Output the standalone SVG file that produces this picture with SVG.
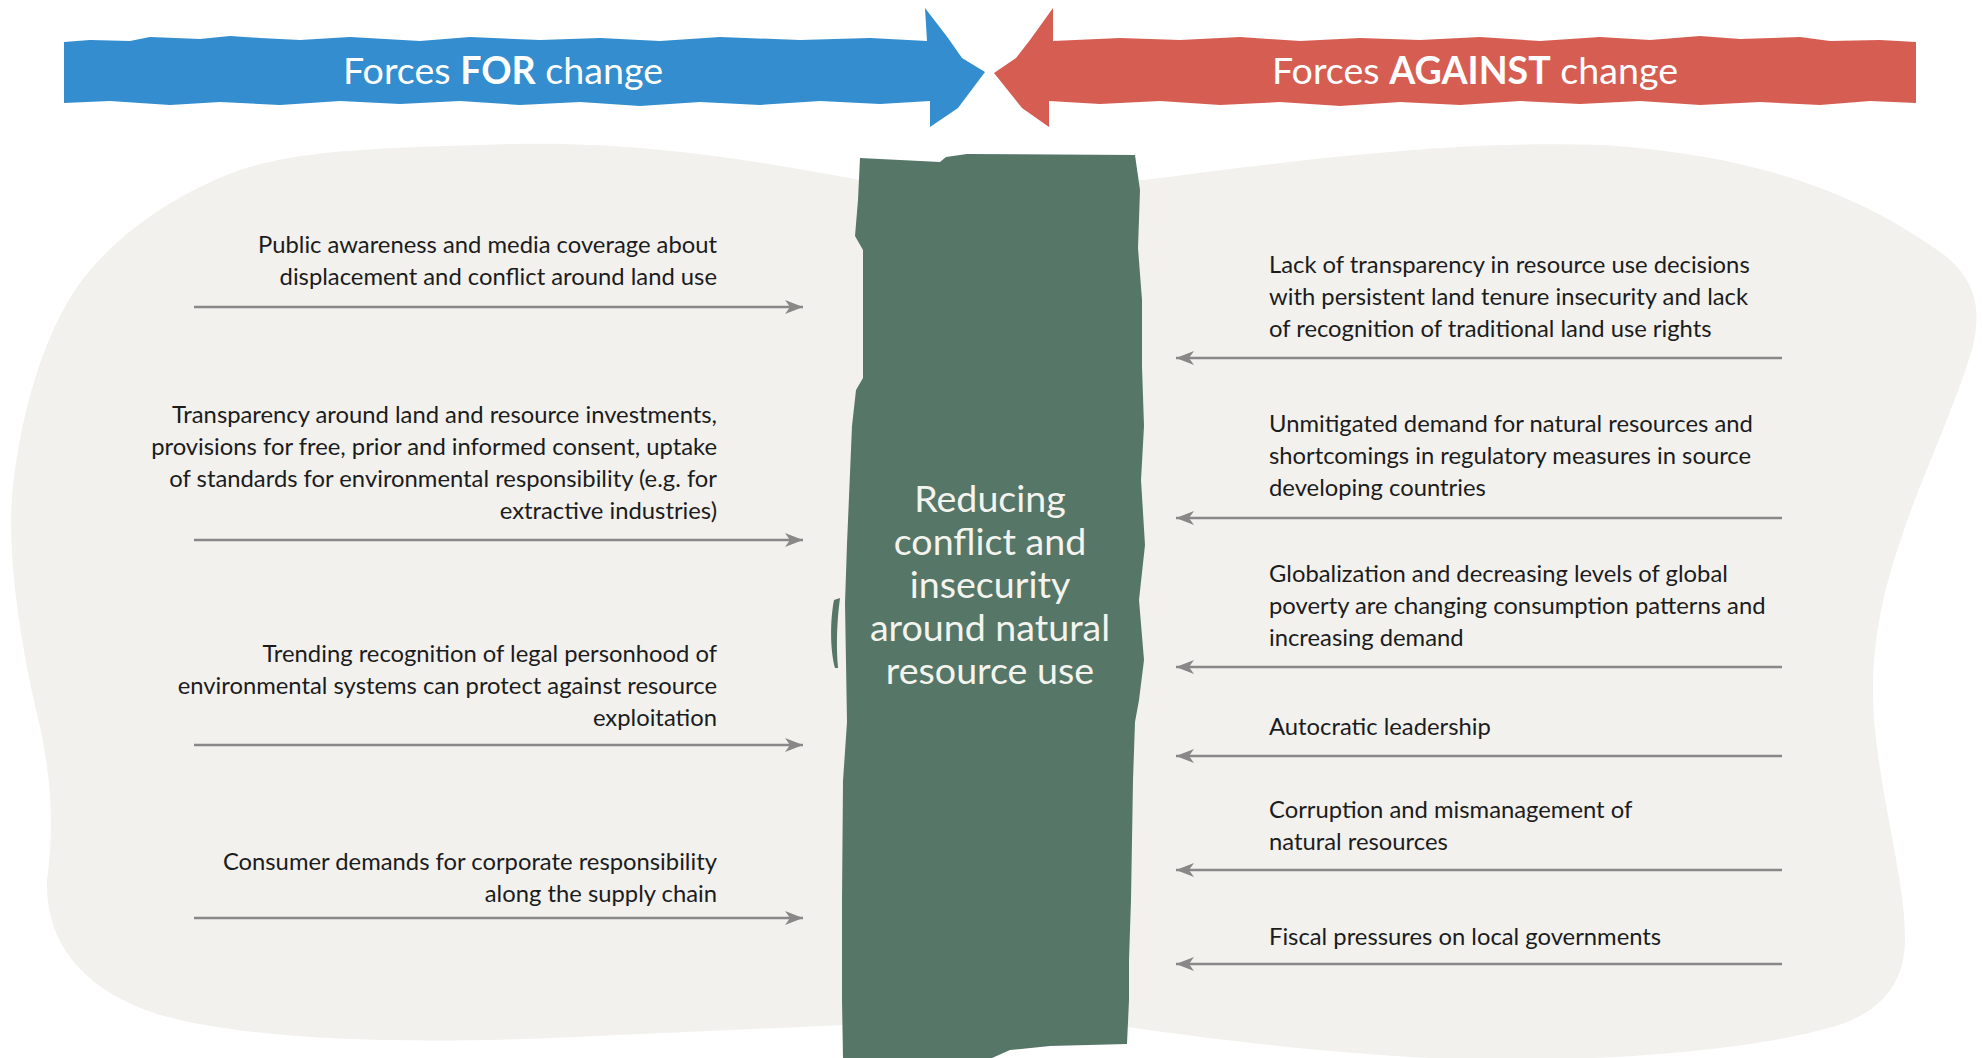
<svg xmlns="http://www.w3.org/2000/svg" width="1982" height="1058" viewBox="0 0 1982 1058">
<style>
.t{font-family:Lato,"Noto Sans","Liberation Sans",sans-serif;font-size:23.8px;fill:#1c1c1c}
.l{text-anchor:end}
.h{font-family:Lato,"Noto Sans","Liberation Sans",sans-serif;font-size:37.6px;fill:#ffffff;text-anchor:middle}
.c{font-family:Lato,"Noto Sans","Liberation Sans",sans-serif;font-size:37.6px;fill:#f4f4ef;text-anchor:middle}
.a{stroke:#888888;stroke-width:2.6;fill:none}
</style>
<defs>
<marker id="ah" markerUnits="userSpaceOnUse" markerWidth="20" markerHeight="16" viewBox="0 0 20 16" refX="18" refY="8" orient="auto">
<path d="M0,1 L18,8 L0,15 L5,8 Z" fill="#888888"/>
</marker>
</defs>
<rect width="1982" height="1058" fill="#ffffff"/>
<g id="background">
<path d="M860,180 C700,150 600,140 480,145 C380,148 300,150 240,170 C170,195 110,240 77,287 C45,335 25,400 15,470 C5,530 15,620 38,718 C50,770 55,820 47,880 C45,940 80,990 160,1015 C250,1040 400,1045 574,1037 L845,1025 L1128,1027 C1250,1045 1400,1060 1500,1060 C1650,1060 1780,1045 1845,1023 C1890,1005 1905,975 1905,939 C1905,880 1885,820 1875,730 C1868,660 1880,600 1901,539 C1920,480 1950,420 1972,350 C1985,300 1970,270 1930,245 C1850,190 1750,155 1604,145 C1450,140 1300,160 1144,180 Z" fill="#f2f1ee"/>
</g>
<g id="forces-for">
<path d="M64,42 L90,40 L130,41 L150,37 L200,39 L230,36 L260,38 L300,40 L350,37 L420,41 L470,37 L540,40 L600,38 L660,41 L720,37 L800,40 L870,38 L927,41 L925,8 L948,38 L962,58 L985,72 L958,108 L930,127 L930,101 L880,104 L820,101 L760,105 L700,102 L640,106 L580,102 L520,105 L460,101 L400,104 L340,101 L280,105 L220,102 L170,105 L110,101 L64,103 Z" fill="#338dce"/>
<text class="h" x="503" y="84">Forces <tspan font-weight="bold">FOR</tspan> change</text>
</g>
<g id="forces-against">
<path d="M1916,42 L1880,40 L1830,41 L1800,37 L1740,39 L1700,36 L1650,40 L1600,37 L1540,41 L1480,37 L1420,40 L1360,38 L1300,41 L1240,37 L1180,40 L1120,38 L1053,41 L1053,8 L1030,40 L1016,58 L994,73 L1022,108 L1049,127 L1049,101 L1100,104 L1160,101 L1220,105 L1280,102 L1340,106 L1400,102 L1460,105 L1520,101 L1580,104 L1640,101 L1700,105 L1760,102 L1820,105 L1870,101 L1916,103 Z" fill="#d65d52"/>
<text class="h" x="1475" y="84">Forces <tspan font-weight="bold">AGAINST</tspan> change</text>
</g>
<g id="goal">
<path d="M860,158 L940,162 L946,157 L967,154 L1135,155 L1140,190 L1138,248 L1142,300 L1142,367 L1144,426 L1141,480 L1145,545 L1139,600 L1144,660 L1139,700 L1135,722 L1133,780 L1132,840 L1131,900 L1129,960 L1129,1000 L1127,1044 L1050,1046 L1010,1050 L992,1058 L843,1058 L842,1000 L842,899 L843,781 L847,722 L845,603 L847,544 L852,426 L856,390 L863,378 L863,250 L855,236 L858,200 Z" fill="#567667"/>
<path d="M834,600 C830,620 830,650 835,668 L838,668 C836,645 837,620 840,598 Z" fill="#567667"/>
<text class="c" x="990" y="512">Reducing</text>
<text class="c" x="990" y="555">conflict and</text>
<text class="c" x="990" y="598">insecurity</text>
<text class="c" x="990" y="641">around natural</text>
<text class="c" x="990" y="684">resource use</text>
</g>
<g id="for-1">
<text class="t l" x="717" y="253">Public awareness and media coverage about</text>
<text class="t l" x="717" y="285">displacement and conflict around land use</text>
</g>
<g id="for-2">
<text class="t l" x="717" y="423">Transparency around land and resource investments,</text>
<text class="t l" x="717" y="455">provisions for free, prior and informed consent, uptake</text>
<text class="t l" x="717" y="487">of standards for environmental responsibility (e.g. for</text>
<text class="t l" x="717" y="519">extractive industries)</text>
</g>
<g id="for-3">
<text class="t l" x="717" y="662">Trending recognition of legal personhood of</text>
<text class="t l" x="717" y="694">environmental systems can protect against resource</text>
<text class="t l" x="717" y="726">exploitation</text>
</g>
<g id="for-4">
<text class="t l" x="717" y="870">Consumer demands for corporate responsibility</text>
<text class="t l" x="717" y="902">along the supply chain</text>
</g>
<g id="against-1">
<text class="t" x="1269" y="273">Lack of transparency in resource use decisions</text>
<text class="t" x="1269" y="305">with persistent land tenure insecurity and lack</text>
<text class="t" x="1269" y="337">of recognition of traditional land use rights</text>
</g>
<g id="against-2">
<text class="t" x="1269" y="432">Unmitigated demand for natural resources and</text>
<text class="t" x="1269" y="464">shortcomings in regulatory measures in source</text>
<text class="t" x="1269" y="496">developing countries</text>
</g>
<g id="against-3">
<text class="t" x="1269" y="582">Globalization and decreasing levels of global</text>
<text class="t" x="1269" y="614">poverty are changing consumption patterns and</text>
<text class="t" x="1269" y="646">increasing demand</text>
</g>
<g id="against-4">
<text class="t" x="1269" y="735">Autocratic leadership</text>
</g>
<g id="against-5">
<text class="t" x="1269" y="818">Corruption and mismanagement of</text>
<text class="t" x="1269" y="850">natural resources</text>
</g>
<g id="against-6">
<text class="t" x="1269" y="945">Fiscal pressures on local governments</text>
</g>
<g id="connectors">
<line class="a" x1="194" y1="307" x2="803" y2="307" marker-end="url(#ah)"/>
<line class="a" x1="194" y1="540" x2="803" y2="540" marker-end="url(#ah)"/>
<line class="a" x1="194" y1="745" x2="803" y2="745" marker-end="url(#ah)"/>
<line class="a" x1="194" y1="918" x2="803" y2="918" marker-end="url(#ah)"/>
<line class="a" x1="1782" y1="358" x2="1176" y2="358" marker-end="url(#ah)"/>
<line class="a" x1="1782" y1="518" x2="1176" y2="518" marker-end="url(#ah)"/>
<line class="a" x1="1782" y1="667" x2="1176" y2="667" marker-end="url(#ah)"/>
<line class="a" x1="1782" y1="756" x2="1176" y2="756" marker-end="url(#ah)"/>
<line class="a" x1="1782" y1="870" x2="1176" y2="870" marker-end="url(#ah)"/>
<line class="a" x1="1782" y1="964" x2="1176" y2="964" marker-end="url(#ah)"/>
</g>
</svg>
